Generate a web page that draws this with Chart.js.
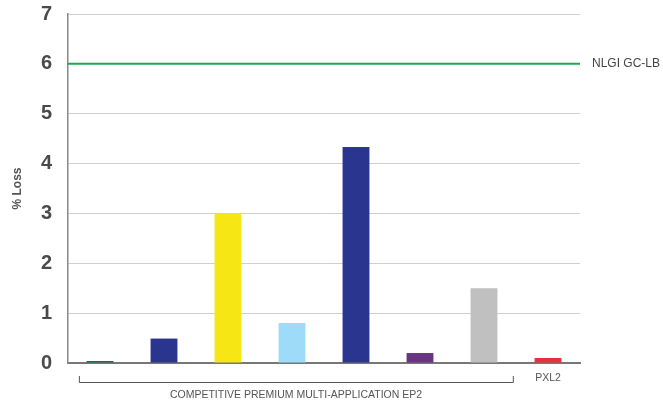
<!DOCTYPE html>
<html>
<head>
<meta charset="utf-8">
<script src="https://cdn.jsdelivr.net/npm/chart.js@4"></script>
<style>
  html, body { margin: 0; padding: 0; background: #fff; }
  #wrap { width: 663px; height: 406px; }
</style>
</head>
<body>
<div id="wrap"><canvas id="lossChart" width="663" height="406"></canvas></div>
<script>
// products, left to right
const products = ["Comp A", "Comp B", "Comp C", "Comp D", "Comp E", "Comp F", "Comp G", "PXL2"];
const lossValues = [0.04, 0.49, 3.0, 0.8, 4.33, 0.2, 1.5, 0.1];
const barColors = ["#1f6b47", "#2a358f", "#f6e714", "#9edbf8", "#2a358f", "#6a3580", "#c0c0c0", "#e5323c"];
const yTicks = [0, 1, 2, 3, 4, 5, 6, 7];
const limitValue = 6;
const limitLabel = "NLGI GC-LB";
const groupLabel = "COMPETITIVE PREMIUM MULTI-APPLICATION EP2";
const groupFirst = 0, groupLast = 6;

const fontFam = "'Liberation Sans', Arial, Helvetica, sans-serif";

// limit line, group bracket and category labels
const extras = {
  id: "extras",
  afterDatasetsDraw(chart) {
    const ctx = chart.ctx;
    const x = chart.scales.x, y = chart.scales.y;
    const area = chart.chartArea;
    ctx.save();
    // limit line
    const ly = y.getPixelForValue(limitValue);
    ctx.strokeStyle = "#1ca84b";
    ctx.lineWidth = 2;
    ctx.beginPath();
    ctx.moveTo(area.left, ly);
    ctx.lineTo(area.right, ly);
    ctx.stroke();
    ctx.fillStyle = "#444";
    ctx.font = "12px " + fontFam;
    ctx.textAlign = "left";
    ctx.textBaseline = "middle";
    ctx.fillText(limitLabel, area.right + 12, ly);

    // bracket under the competitor bars
    const half = x.getPixelForValue(1) - x.getPixelForValue(0);
    const bx0 = x.getPixelForValue(groupFirst) - half * 0.33;
    const bx1 = x.getPixelForValue(groupLast) + half * 0.45;
    const by = area.bottom + 19;
    ctx.strokeStyle = "#555";
    ctx.lineWidth = 1;
    ctx.beginPath();
    ctx.moveTo(bx0 + 0.5, by - 6);
    ctx.lineTo(bx0 + 0.5, by + 0.5);
    ctx.lineTo(bx1 + 0.5, by + 0.5);
    ctx.lineTo(bx1 + 0.5, by - 6);
    ctx.stroke();
    ctx.fillStyle = "#555";
    ctx.font = "10.5px " + fontFam;
    ctx.textAlign = "center";
    ctx.fillText(groupLabel, (x.getPixelForValue(groupFirst) + x.getPixelForValue(groupLast)) / 2 + 4, by + 13);
    ctx.fillText(products[products.length - 1], x.getPixelForValue(products.length - 1), area.bottom + 15);
    ctx.restore();
  }
};

new Chart(document.getElementById("lossChart"), {
  type: "bar",
  data: {
    labels: products,
    datasets: [{
      data: lossValues,
      backgroundColor: barColors,
      borderWidth: 0,
      categoryPercentage: 1,
      barPercentage: 0.42
    }]
  },
  options: {
    responsive: false,
    animation: false,
    layout: { padding: { top: 14, right: 83, bottom: 43, left: 0 } },
    plugins: { legend: { display: false }, tooltip: { enabled: false } },
    scales: {
      x: {
        ticks: { display: false },
        grid: { display: false, drawTicks: false },
        border: { color: "#777", width: 2 },
        afterFit(s) { s.height = 0; }
      },
      y: {
        min: 0,
        max: 7,
        afterBuildTicks(s) { s.ticks = yTicks.map(v => ({ value: v })); },
        ticks: {
          color: "#4a4a4a",
          padding: 16,
          font: { family: fontFam, size: 20, weight: "bold" }
        },
        grid: { color: "#cfcfcf", lineWidth: 1, drawTicks: false },
        border: { color: "#888", width: 1.5 },
        title: {
          display: true,
          text: "% Loss",
          color: "#555",
          font: { family: fontFam, size: 12, weight: "bold" },
          padding: { top: 10, bottom: 0 }
        },
        afterFit(s) { s.width = 68; s.paddingTop = 0; s.paddingBottom = 0; }
      }
    }
  },
  plugins: [extras]
});
</script>
</body>
</html>
